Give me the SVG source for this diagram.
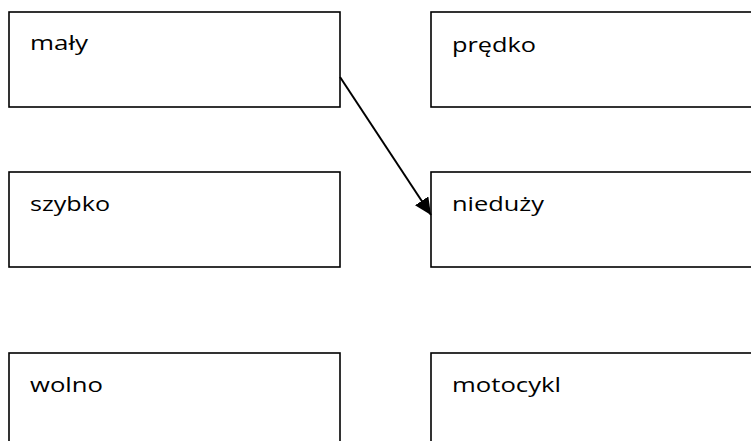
<svg xmlns="http://www.w3.org/2000/svg" width="751" height="441" viewBox="0 0 751 441">
  <style>
    .box { fill: #ffffff; stroke: #000000; stroke-width: 1.6; }
    .lbl { font-family: "Open Sans", "Noto Sans", sans-serif; font-size: 20px; fill: #000000; }
    .conn { stroke: #000000; stroke-width: 2; fill: none; }
  </style>
  <defs>
    <marker id="arrow" markerUnits="userSpaceOnUse" markerWidth="18" markerHeight="16" refX="17" refY="8" orient="auto">
      <path d="M0,0 L17,8 L0,16 Z" fill="#000000"/>
    </marker>
  </defs>
  <rect width="751" height="441" fill="#ffffff"/>
  <g id="node-maly">
    <rect class="box" x="9" y="12" width="331" height="95"/>
    <text class="lbl" x="30" y="50" textLength="58" lengthAdjust="spacingAndGlyphs">mały</text>
  </g>
  <g id="node-predko">
    <rect class="box" x="431" y="12" width="340" height="95"/>
    <text class="lbl" x="452" y="52" textLength="84" lengthAdjust="spacingAndGlyphs">prędko</text>
  </g>
  <g id="node-szybko">
    <rect class="box" x="9" y="172" width="331" height="95"/>
    <text class="lbl" x="30" y="211" textLength="80" lengthAdjust="spacingAndGlyphs">szybko</text>
  </g>
  <g id="node-niedu">
    <rect class="box" x="431" y="172" width="340" height="95"/>
    <text class="lbl" x="452" y="211" textLength="92" lengthAdjust="spacingAndGlyphs">nieduży</text>
  </g>
  <g id="node-wolno">
    <rect class="box" x="9" y="353" width="331" height="95"/>
    <text class="lbl" x="30" y="392" textLength="73" lengthAdjust="spacingAndGlyphs">wolno</text>
  </g>
  <g id="node-motocykl">
    <rect class="box" x="431" y="353" width="340" height="95"/>
    <text class="lbl" x="452" y="392" textLength="109" lengthAdjust="spacingAndGlyphs">motocykl</text>
  </g>
  <g id="connectors">
    <line class="conn" x1="340" y1="77" x2="431" y2="215" marker-end="url(#arrow)"/>
  </g>
</svg>
